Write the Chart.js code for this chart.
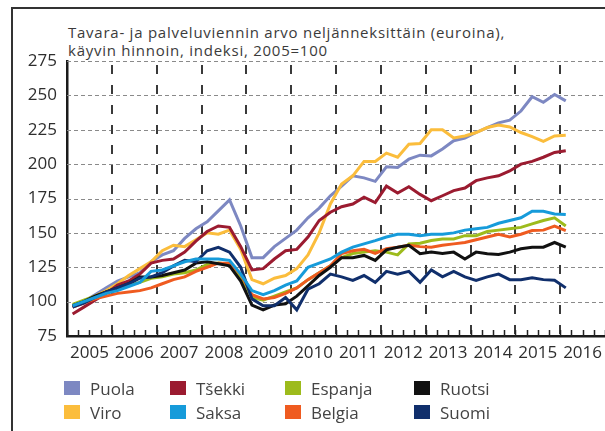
<!DOCTYPE html>
<html lang="fi">
  <head>
    <meta charset="UTF-8" />
    <title>Tavara- ja palveluviennin arvo neljänneksittäin</title>
    <script src="https://cdn.jsdelivr.net/npm/chart.js@4.4.1/dist/chart.umd.min.js"></script>
    <style>
      html, body {
        margin: 0;
        padding: 0;
        background: #fff;
      }
      body {
        width: 605px;
        height: 431px;
        position: relative;
        overflow: hidden;
        font-family: 'Open Sans', sans-serif;
      }
      .frame {
        position: absolute;
        left: 11px;
        top: 7px;
        right: -10px;
        bottom: -10px;
        border-top: 2px solid #333;
        border-left: 2px solid #333;
      }
      .chart-title {
        position: absolute;
        left: 68px;
        top: 23px;
        font-size: 15px;
        line-height: 18px;
        letter-spacing: 0.75px;
        color: #3b3b3b;
        white-space: nowrap;
      }
      #exportChart {
        position: absolute;
        left: 0;
        top: 0;
      }
      .legend {
        position: absolute;
        left: 64px;
        top: 377px;
        display: grid;
        grid-template-columns: 106px 115px 129px 120px;
        row-gap: 2px;
        color: #444;
        font-size: 17px;
      }
      .legend-item {
        display: flex;
        align-items: center;
        height: 22px;
      }
      .swatch {
        width: 16px;
        height: 14px;
        margin-right: 10px;
      }
    </style>
  </head>
  <body>
    <div class="frame"></div>
    <div class="chart-title">
      Tavara- ja palveluviennin arvo neljänneksittäin (euroina),<br />
      käyvin hinnoin, indeksi, 2005=100
    </div>
    <canvas id="exportChart" width="605" height="431"></canvas>
    <div class="legend" id="legend"></div>

    <script>
      // Neljännekset 2005Q1 - 2016Q1
      const quarters = [
        '2005Q1', '2005Q2', '2005Q3', '2005Q4',
        '2006Q1', '2006Q2', '2006Q3', '2006Q4',
        '2007Q1', '2007Q2', '2007Q3', '2007Q4',
        '2008Q1', '2008Q2', '2008Q3', '2008Q4',
        '2009Q1', '2009Q2', '2009Q3', '2009Q4',
        '2010Q1', '2010Q2', '2010Q3', '2010Q4',
        '2011Q1', '2011Q2', '2011Q3', '2011Q4',
        '2012Q1', '2012Q2', '2012Q3', '2012Q4',
        '2013Q1', '2013Q2', '2013Q3', '2013Q4',
        '2014Q1', '2014Q2', '2014Q3', '2014Q4',
        '2015Q1', '2015Q2', '2015Q3', '2015Q4',
        '2016Q1'
      ]
      const yearLabels = ['2005', '2006', '2007', '2008', '2009', '2010',
        '2011', '2012', '2013', '2014', '2015', '2016']
      const yMin = 75
      const yMax = 275
      const yStep = 25

      // Indeksi, 2005=100
      const puola = [96, 100, 105, 110, 115, 118, 121, 129, 134, 137, 146, 153,
        158, 166, 174, 155, 132, 132, 140, 146, 152, 161, 168, 177, 184, 191.5,
        190, 187.5, 198, 197.6, 203.6, 206.5, 206, 211, 217, 219, 223, 226.6,
        230, 232, 238.6, 249, 245, 250.7, 246]
      const tsekki = [91, 96, 101, 106, 112, 115, 120, 128, 130, 131, 136, 144,
        151, 155, 154, 140, 123, 124, 131, 137, 138, 147, 159, 165, 169, 171,
        176, 172, 184, 179, 183.6, 178, 173.4, 177, 180.7, 182.6, 188, 190,
        191.5, 195, 200, 202, 205, 208.5, 209.7]
      const espanja = [98, 101, 104, 107, 109, 112, 114, 117, 118, 120, 121, 123,
        127, 128, 127, 118, 103, 101, 104, 107, 110, 116, 121, 126, 132, 135,
        136, 137, 136, 134, 142, 142.5, 144.4, 145.6, 145.6, 148, 148, 151, 152,
        153, 154, 156.5, 159, 161, 155]
      const ruotsi = [97, 100, 104, 107, 110, 113, 118, 118, 119, 121, 123, 128,
        129, 127.5, 126, 115, 97.5, 94, 97.5, 98.5, 104, 111.5, 119, 125, 132,
        132, 133.6, 130, 137.7, 139.6, 141, 134.8, 136, 135, 136, 131, 136,
        134.8, 134.3, 136, 138.4, 139.6, 139.6, 143, 139.6]
      const viro = [97, 100, 104, 108, 113, 119, 124, 129, 137, 141, 140, 145,
        150, 149, 152, 138, 116, 113, 117, 119, 124, 134, 150, 171, 185.5,
        191.5, 202, 202, 208, 205, 214.5, 215, 225, 225, 219, 220.5, 223, 226.6,
        228.5, 227, 223, 220, 216.5, 220.5, 221]
      const saksa = [97, 100, 103, 106, 108, 111, 114, 122, 123, 126, 129, 131,
        131, 131, 130, 120, 108, 105, 108, 112, 115, 125, 128, 131, 136, 139.6,
        142, 144.4, 147, 149, 149, 148, 149, 149, 150, 152, 153, 154, 157, 159,
        161, 165.7, 165.7, 163.8, 163.3]
      const belgia = [96, 99, 102, 104, 106, 107, 108, 110, 113, 116, 118, 122,
        125, 128, 128, 120, 105, 102, 103, 106, 110, 116, 121, 126, 135, 137,
        138, 135, 138.4, 139.6, 141, 140, 139.6, 141, 142, 143, 145, 147, 149,
        147, 149, 151.7, 152, 155, 151.7]
      const suomi = [96, 99, 103, 107, 110, 113, 117, 118, 121, 126, 130, 129,
        137, 139.5, 136, 125, 102, 97, 97, 103, 94, 109, 113, 120, 118, 115.5,
        119, 114, 122, 120, 122, 114, 123, 118, 122, 118, 115.5, 118, 120, 116,
        116, 117.4, 116, 115.5, 110]

      // Legendan järjestys (kaksi riviä, neljä saraketta)
      const series = [
        { label: 'Puola', data: puola, color: '#7d88c2', order: 8 },
        { label: 'Tšekki', data: tsekki, color: '#9b1b30', order: 6 },
        { label: 'Espanja', data: espanja, color: '#9dbb1c', order: 5 },
        { label: 'Ruotsi', data: ruotsi, color: '#111111', order: 3 },
        { label: 'Viro', data: viro, color: '#fbbd3c', order: 7 },
        { label: 'Saksa', data: saksa, color: '#169bda', order: 1 },
        { label: 'Belgia', data: belgia, color: '#ef5b20', order: 4 },
        { label: 'Suomi', data: suomi, color: '#102f6c', order: 2 }
      ]

      // neljänneksen keskikohta vuosiakselilla
      function quarterPos(q) {
        const year = parseInt(q.slice(0, 4))
        const n = parseInt(q.slice(5))
        return year + (n - 0.5) / 4
      }

      const firstYear = parseInt(yearLabels[0])
      const lastYear = parseInt(yearLabels[yearLabels.length - 1]) + 1

      function isYearLine(v) {
        return Number.isInteger(v) && v > firstYear && v < lastYear
      }

      // katkoviivaruudukko ja neljännesmerkit akselien tickeistä
      const dashedGrid = {
        id: 'dashedGrid',
        beforeDatasetsDraw(chart) {
          const { ctx, chartArea: a, scales } = chart
          const x = scales.x
          const y = scales.y
          ctx.save()

          ctx.strokeStyle = '#8a8a8a'
          ctx.lineWidth = 1
          ctx.setLineDash([4, 3])
          y.ticks.forEach(t => {
            if (t.value === yMin) return
            const py = Math.round(y.getPixelForValue(t.value)) + 0.5
            ctx.beginPath()
            ctx.moveTo(a.left, py)
            ctx.lineTo(a.right, py)
            ctx.stroke()
          })

          ctx.strokeStyle = '#3a3a3a'
          ctx.lineWidth = 2
          ctx.setLineDash([9, 11])
          ctx.lineDashOffset = -4
          x.ticks.forEach(t => {
            if (!isYearLine(t.value)) return
            const px = Math.round(x.getPixelForValue(t.value))
            ctx.beginPath()
            ctx.moveTo(px, a.top)
            ctx.lineTo(px, a.bottom)
            ctx.stroke()
          })

          ctx.setLineDash([])
          ctx.strokeStyle = '#222'
          ctx.lineWidth = 1.5
          x.ticks.forEach(t => {
            const px = Math.round(x.getPixelForValue(t.value)) + 0.5
            ctx.beginPath()
            ctx.moveTo(px, a.bottom)
            ctx.lineTo(px, a.bottom - 6)
            ctx.stroke()
          })
          ctx.restore()
        }
      }

      const tickFont = { family: 'Open Sans', size: 17 }

      new Chart(document.getElementById('exportChart'), {
        type: 'line',
        data: {
          datasets: series.map(s => ({
            label: s.label,
            data: s.data.map((v, i) => ({ x: quarterPos(quarters[i]), y: v })),
            borderColor: s.color,
            backgroundColor: s.color,
            borderWidth: 3,
            pointRadius: 0,
            tension: 0,
            fill: false,
            order: s.order
          }))
        },
        options: {
          responsive: false,
          animation: false,
          layout: { padding: { left: 11, right: 0, top: 61, bottom: 55 } },
          plugins: {
            legend: { display: false },
            tooltip: { enabled: false }
          },
          scales: {
            x: {
              type: 'linear',
              min: firstYear,
              max: lastYear,
              afterFit: scale => {
                scale.height = 40
                scale.paddingLeft = 0
                scale.paddingRight = 0
              },
              ticks: {
                stepSize: 0.25,
                maxTicksLimit: 100,
                autoSkip: false,
                maxRotation: 0,
                minRotation: 0,
                padding: 7,
                color: '#2e2e2e',
                font: tickFont,
                callback: v => {
                  const k = v - firstYear
                  return k % 1 === 0.5 ? yearLabels[Math.floor(k)] : ''
                }
              },
              grid: { display: false, drawTicks: false },
              border: { display: true, color: '#1a1a1a', width: 2.5 }
            },
            y: {
              min: yMin,
              max: yMax,
              afterFit: scale => {
                scale.width = 56
              },
              ticks: {
                stepSize: yStep,
                padding: 10,
                color: '#2e2e2e',
                font: tickFont
              },
              grid: { display: false, drawTicks: false },
              border: { display: true, color: '#1a1a1a', width: 2.5 }
            }
          }
        },
        plugins: [dashedGrid]
      })

      // Legenda HTML:nä neljään sarakkeeseen
      const legend = document.getElementById('legend')
      series.forEach((s, i) => {
        const item = document.createElement('div')
        item.className = 'legend-item'
        item.style.gridRow = i < 4 ? 1 : 2
        item.style.gridColumn = (i % 4) + 1
        item.innerHTML = `<span class="swatch" style="background:${s.color}"></span>${s.label}`
        legend.appendChild(item)
      })
    </script>
  </body>
</html>
